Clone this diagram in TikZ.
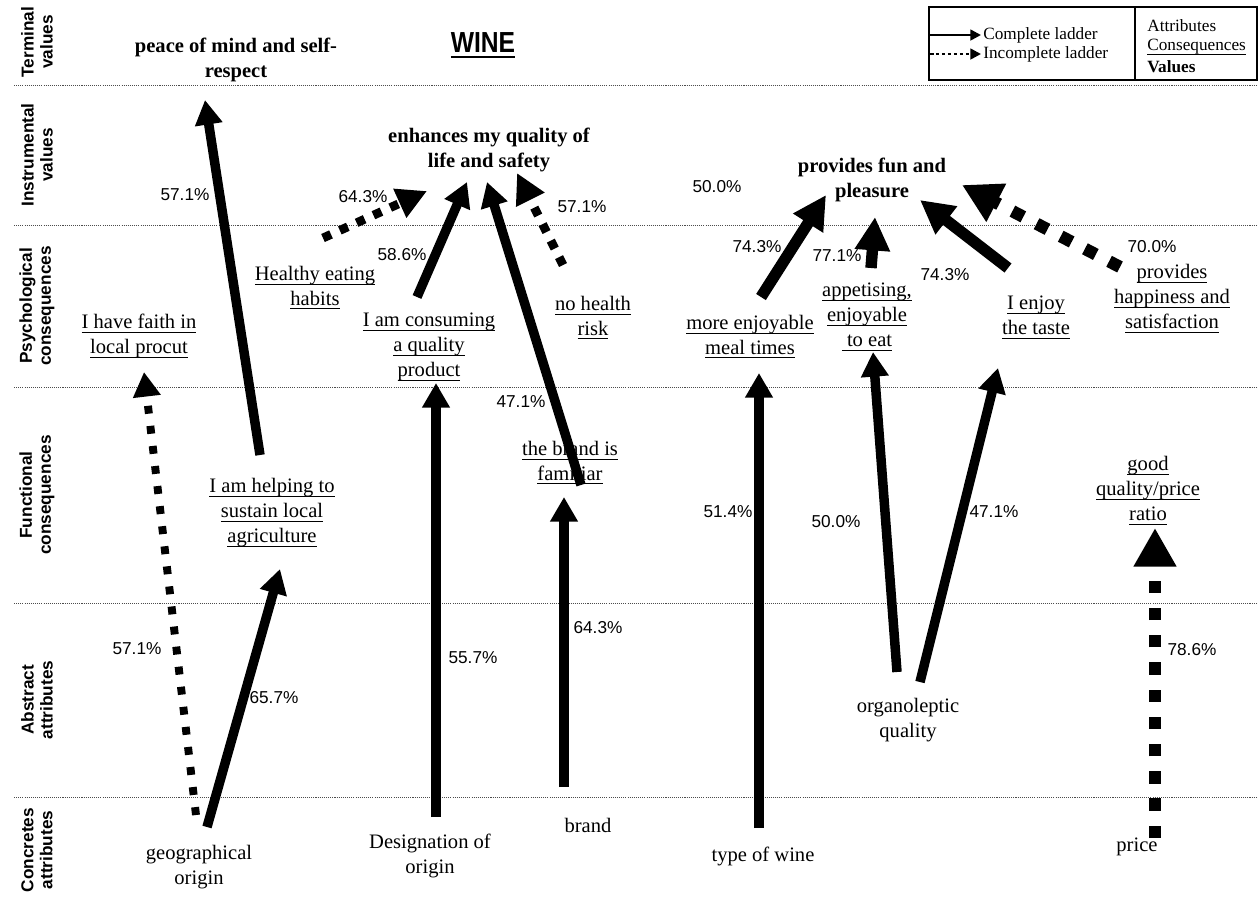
\documentclass[tikz,border=0pt]{standalone}
\usepackage{fontspec}
\setmainfont{Liberation Serif}
\setsansfont{Liberation Sans}
\newfontfamily\titlefont[FakeStretch=0.85]{Liberation Sans}
\usetikzlibrary{arrows.meta}

\newcommand{\conseq}[1]{\setbox0=\hbox{#1}\rlap{\rule[-2.4pt]{\wd0}{0.5pt}}\box0}

\begin{document}
\begin{tikzpicture}[x=0.02cm, y=-0.02cm,
  level/.style={rotate=90, align=center, font=\sffamily\bfseries\fontsize{9.8}{10.8}\selectfont},
  attr/.style={align=center, yshift=-1.5pt, font=\fontsize{11.7}{14.2}\selectfont},
  value/.style={align=center, yshift=-1.5pt, font=\bfseries\fontsize{11.7}{14.2}\selectfont},
  pct/.style={font=\sffamily\fontsize{9.8}{11}\selectfont},
  legendtext/.style={anchor=west, inner sep=0pt, font=\fontsize{9.8}{11}\selectfont},
  complete/.style={line width=5.4pt, -{Triangle[length=14pt,width=15pt]}},
  heavy/.style={line width=6.5pt, -{Triangle[length=19pt,width=19pt]}},
  incomplete/.style={line width=5pt, dash pattern=on 5pt off 5.5pt, -{Triangle[length=17pt,width=17pt]}},
  heavy incomplete/.style={line width=7pt, dash pattern=on 7pt off 8.5pt, -{Triangle[length=22pt,width=23pt]}},
  ]
\useasboundingbox (0,0) rectangle (1258,904);

% levels of the ladder
\foreach \y in {85,225,387,603,797}
  \draw[black!70, line width=0.4pt, dash pattern=on 0.6pt off 0.6pt] (14,\y) -- (1258,\y);
\node[level] (lvTerm) at (37,42)  {Terminal\\values};
\node[level] (lvInst) at (37,155) {Instrumental\\values};
\node[level] (lvPsy)  at (37,306) {Psychological\\consequences};
\node[level] (lvFunc) at (37,495) {Functional\\consequences};
\node[level] (lvAbs)  at (37,700) {Abstract\\attributes};
\node[level] (lvConc) at (37,850) {Concretes\\attributes};

\node[font=\titlefont\bfseries\fontsize{16.5}{18}\selectfont] (title) at (483,45)
  {\setbox0=\hbox{WINE}\rlap{\rule[-3.2pt]{\wd0}{1.3pt}}\box0};

% legend
\draw[line width=0.8pt] (929,7) rectangle (1257,80);
\draw[line width=0.8pt] (1135,7) -- (1135,80);
\coordinate (lgA) at (930,35);  \coordinate (lgAend) at (981,35);
\coordinate (lgB) at (930,54);  \coordinate (lgBend) at (981,54);
\draw[line width=1.4pt, -{Triangle[length=6pt,width=6pt]}] (lgA) -- (lgAend);
\draw[line width=1.4pt, dash pattern=on 2pt off 1.4pt, -{Triangle[length=6pt,width=6pt]}] (lgB) -- (lgBend);
\node[legendtext] (lgComplete)   at (983,35)  {Complete ladder};
\node[legendtext] (lgIncomplete) at (983,54)  {Incomplete ladder};
\node[legendtext] (lgAttr)       at (1147,26) {Attributes};
\node[legendtext] (lgCons)       at (1147,47) {\conseq{Consequences}};
\node[legendtext] (lgVal)        at (1147,67) {\textbf{Values}};

% values
\node[value] (peace)   at (236,57)  {peace of mind and self-\\respect};
\node[value] (enhance) at (489,147) {enhances my quality of\\life and safety};
\node[value] (fun)     at (872,177) {provides fun and\\pleasure};

% consequences
\node[attr] (faith)     at (139,333)  {\conseq{I have faith in}\\\conseq{local procut}};
\node[attr] (helping)   at (272,510)  {\conseq{I am helping to}\\\conseq{sustain local}\\\conseq{agriculture}};
\node[attr] (healthy)   at (315,285)  {\conseq{Healthy eating}\\\conseq{habits}};
\node[attr] (consuming) at (429,344)  {\conseq{I am consuming}\\\conseq{a quality}\\\conseq{product}};
\node[attr] (nohealth)  at (593,315)  {\conseq{no health}\\\conseq{risk}};
\node[attr] (familiar)  at (570,460)  {\conseq{the brand is}\\\conseq{familiar}};
\node[attr] (enjoymeal) at (750,334)  {\conseq{more enjoyable}\\\conseq{meal times}};
\node[attr] (appetite)  at (867,314)  {\conseq{appetising,}\\\conseq{enjoyable}\\\conseq{ to eat}};
\node[attr] (taste)     at (1036,315) {\conseq{I enjoy}\\\conseq{the taste}};
\node[attr] (happy)     at (1172,296) {\conseq{provides}\\\conseq{happiness and}\\\conseq{satisfaction}};
\node[attr] (ratio)     at (1148,488) {\conseq{good}\\\conseq{quality/price}\\\conseq{ratio}};

% attributes
\node[attr] (organo) at (908,717)  {organoleptic\\quality};
\node[attr] (geo)    at (199,864)  {geographical\\origin};
\node[attr] (desig)  at (430,853)  {Designation of\\origin};
\node[attr] (brand)  at (588,823)  {brand};
\node[attr] (wine)   at (763,854)  {type of wine};
\node[attr] (price)  at (1137,844) {price};

% arrow ends
\coordinate (geoA)      at (207,827);  \coordinate (helpingIn)  at (280,569);
\coordinate (geoB)      at (196,815);  \coordinate (faithIn)    at (144,372);
\coordinate (helpingOut) at (260,455); \coordinate (peaceIn)    at (205,100);
\coordinate (desigOut)  at (436,817);  \coordinate (consumingIn) at (436,383);
\coordinate (brandOut)  at (564,787);  \coordinate (familiarIn) at (564,497);
\coordinate (familiarOut) at (581,485); \coordinate (enhanceInB) at (487,182);
\coordinate (consumingOut) at (417,297); \coordinate (enhanceInA) at (467,182);
\coordinate (healthyOut) at (323,238); \coordinate (enhanceInL) at (427,191);
\coordinate (nohealthOut) at (563,265); \coordinate (enhanceInR) at (517,173);
\coordinate (wineOut)   at (759,828);  \coordinate (enjoymealIn) at (759,373);
\coordinate (enjoymealOut) at (761,297); \coordinate (funInA)   at (826,195);
\coordinate (appetiteOut) at (871,268); \coordinate (funInB)    at (875,217);
\coordinate (tasteOut)  at (1008,268); \coordinate (funInC)     at (920,200);
\coordinate (happyOut)  at (1120,267); \coordinate (funInD)     at (962,185);
\coordinate (organoA)   at (897,672);  \coordinate (appetiteIn) at (873,352);
\coordinate (organoB)   at (920,682);  \coordinate (tasteIn)    at (998,368);
\coordinate (priceOut)  at (1155,838); \coordinate (ratioIn)    at (1155,528);

% ladders
\draw[complete] (helpingOut) -- (peaceIn);
\draw[complete] (geoA) -- (helpingIn);
\draw[incomplete, line width=4.5pt, dash pattern=on 4.5pt off 7pt, -{Triangle[length=14pt,width=15pt]}] (geoB) -- (faithIn);
\draw[complete] (desigOut) -- (consumingIn);
\draw[complete] (brandOut) -- (familiarIn);
\draw[complete] (familiarOut) -- (enhanceInB);
\draw[complete] (consumingOut) -- (enhanceInA);
\draw[incomplete] (healthyOut) -- (enhanceInL);
\draw[incomplete] (nohealthOut) -- (enhanceInR);
\draw[complete] (wineOut) -- (enjoymealIn);
\draw[heavy] (enjoymealOut) -- (funInA);
\draw[heavy] (appetiteOut) -- (funInB);
\draw[heavy] (tasteOut) -- (funInC);
\draw[heavy incomplete] (happyOut) -- (funInD);
\draw[complete] (organoA) -- (appetiteIn);
\draw[complete] (organoB) -- (tasteIn);
\draw[heavy incomplete] (priceOut) -- (ratioIn);

% percentages
\node[pct] (pPeace)    at (185,195)  {57.1\%};
\node[pct] (pHealthy)  at (363,197)  {64.3\%};
\node[pct] (pConsum)   at (402,255)  {58.6\%};
\node[pct] (pNohealth) at (582,207)  {57.1\%};
\node[pct] (pFree)     at (717,187)  {50.0\%};
\node[pct] (pMeal)     at (757,247)  {74.3\%};
\node[pct] (pAppet)    at (837,256)  {77.1\%};
\node[pct] (pTaste)    at (945,275)  {74.3\%};
\node[pct] (pHappy)    at (1152,247) {70.0\%};
\node[pct] (pFamiliar) at (521,402)  {47.1\%};
\node[pct] (pFaith)    at (137,649)  {57.1\%};
\node[pct] (pHelping)  at (274,698)  {65.7\%};
\node[pct] (pDesig)    at (473,658)  {55.7\%};
\node[pct] (pBrand)    at (598,628)  {64.3\%};
\node[pct] (pWine)     at (728,512)  {51.4\%};
\node[pct] (pOrganoA)  at (836,522)  {50.0\%};
\node[pct] (pOrganoB)  at (994,512)  {47.1\%};
\node[pct] (pPrice)    at (1192,650) {78.6\%};
\end{tikzpicture}
\end{document}
